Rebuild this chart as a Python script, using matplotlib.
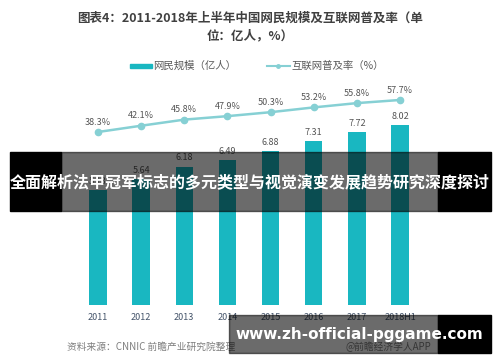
import numpy as np
import matplotlib.pyplot as plt
from matplotlib.patches import Rectangle

plt.rcParams['font.family'] = ['Noto Sans CJK SC', 'DejaVu Sans']

# 数据
years = ['2011', '2012', '2013', '2014', '2015', '2016', '2017', '2018H1']
users = [5.13, 5.64, 6.18, 6.49, 6.88, 7.31, 7.72, 8.02]
rate = [38.3, 42.1, 45.8, 47.9, 50.3, 53.2, 55.8, 57.7]

W, H = 500, 362
fig = plt.figure(figsize=(5, 3.62), dpi=100)

def px(x0, y0, x1, y1):
    # 像素框 -> 图坐标
    return [x0 / W, 1 - y1 / H, (x1 - x0) / W, (y1 - y0) / H]

ax = fig.add_axes(px(76.4, 80, 421.6, 305))
x = np.arange(len(years))
bar_c = '#19b7c1'
ax.bar(x, users, width=0.4, color=bar_c, zorder=2)
for xi, v in zip(x, users):
    ax.text(xi, v + 0.18, f'{v:.2f}', ha='center', va='bottom', fontsize=6.5, color='#555555')
ax.set_xlim(-0.5, 7.5)
ax.set_ylim(0, 10.04)
ax.set_xticks(x)
ax.set_xticklabels(years, fontsize=6.5, color='#44546a')
ax.tick_params(length=0, pad=6)
ax.set_yticks([])
for s in ax.spines.values():
    s.set_visible(False)

ax2 = ax.twinx()
line_c = '#86d0d4'
ax2.plot(x, rate, color=line_c, lw=1.8, marker='o', ms=4.5, zorder=3)
for xi, v in zip(x, rate):
    ax2.text(xi, v + 3.2, f'{v}%', ha='center', va='bottom', fontsize=6.5, color='#555555')
ax2.set_ylim(-66.5, 69.8)
ax2.set_yticks([])
for s in ax2.spines.values():
    s.set_visible(False)

# 标题
fig.text(0.5, 1 - 18 / H, '图表4：2011-2018年上半年中国网民规模及互联网普及率（单',
         ha='center', va='center', fontsize=9, fontweight='bold', color='#404040')
fig.text(0.5, 1 - 36 / H, '位：亿人，%）',
         ha='center', va='center', fontsize=9, fontweight='bold', color='#404040')

# 图例
fig.patches.append(Rectangle((130 / W, 1 - 68 / H), 22 / W, 4 / H, color=bar_c, transform=fig.transFigure))
fig.text(153 / W, 1 - 66 / H, '网民规模（亿人）', va='center', fontsize=7.5, color='#595959')
fig.lines.append(plt.Line2D([267 / W, 290 / W], [1 - 66 / H, 1 - 66 / H], color=line_c, lw=1.5,
                           marker='o', ms=2.5, markevery=[1], transform=fig.transFigure))
fig.lines[-1].set_xdata([267 / W, 278 / W, 290 / W])
fig.lines[-1].set_ydata([1 - 66 / H] * 3)
fig.text(291 / W, 1 - 66 / H, '互联网普及率（%）', va='center', fontsize=7.5, color='#595959')

# 来源
fig.text(67 / W, 1 - 347 / H, '资料来源：CNNIC 前瞻产业研究院整理', va='center',
         fontsize=7, color='#7f7f7f', style='italic')
fig.text(345 / W, 1 - 347 / H, '@前瞻经济学人APP', va='center', fontsize=7, color='#7f7f7f')

# 覆盖横幅
fig.patches.append(Rectangle((10 / W, 1 - 211 / H), 51 / W, 59 / H, color='black', transform=fig.transFigure, zorder=10))
fig.patches.append(Rectangle((438 / W, 1 - 211 / H), 53 / W, 59 / H, color='black', transform=fig.transFigure, zorder=10))
fig.patches.append(Rectangle((61 / W, 1 - 211 / H), 377 / W, 59 / H, color='black', alpha=0.58,
                             transform=fig.transFigure, zorder=10))
fig.text(250 / W, 1 - 182 / H, '全面解析法甲冠军标志的多元类型与视觉演变发展趋势研究深度探讨',
         ha='center', va='center', fontsize=11.5, fontweight='bold', color='white', zorder=11)

fig.patches.append(Rectangle((438 / W, 1 - 353 / H), 53 / W, 38 / H, color='black', transform=fig.transFigure, zorder=10))
fig.patches.append(Rectangle((229 / W, 1 - 353 / H), 209 / W, 38 / H, color='black', alpha=0.58,
                             transform=fig.transFigure, zorder=10))
fig.text(359 / W, 1 - 335 / H, 'www.zh-official-pggame.com', ha='center', va='center',
         fontsize=11, fontweight='bold', color='white', zorder=11, family='DejaVu Sans')

fig.savefig('out.png', dpi=100)
